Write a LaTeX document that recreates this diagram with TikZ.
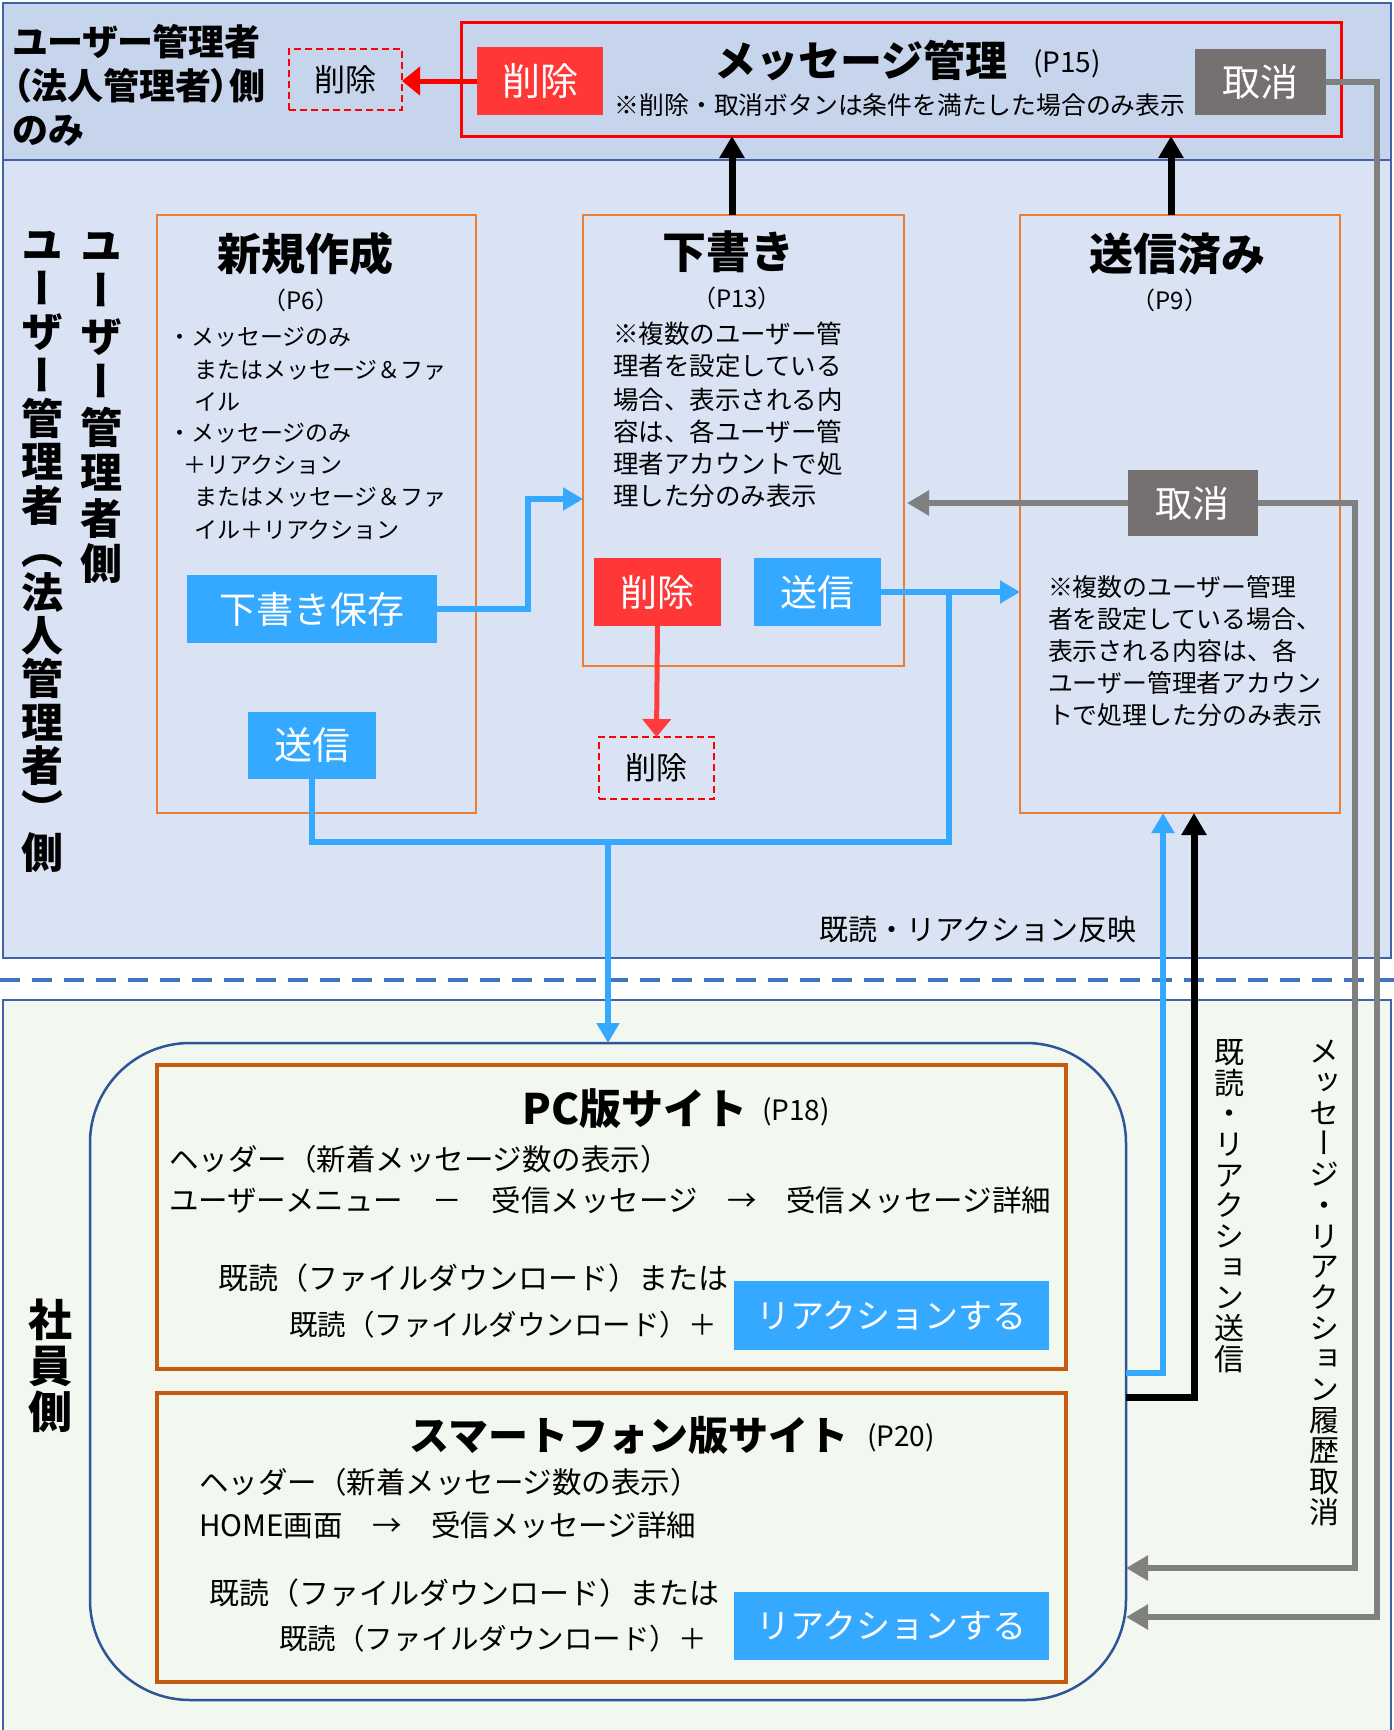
\documentclass[tikz,border=0pt]{standalone}
\usepackage{fontspec}
\setmainfont{Noto Sans CJK JP}
\newfontfamily\jpp[RawFeature=+palt]{Noto Sans CJK JP}
\newfontfamily\jpv[RawFeature=+vert]{Noto Sans CJK JP}
\usetikzlibrary{arrows.meta}
\definecolor{topfill}{HTML}{C6D4EC}
\definecolor{midfill}{HTML}{DAE3F3}
\definecolor{botfill}{HTML}{F2F7F0}
\definecolor{bandline}{HTML}{3F62A8}
\definecolor{dashblue}{HTML}{4472C4}
\definecolor{orangeline}{HTML}{ED7D31}
\definecolor{brownline}{HTML}{C55A11}
\definecolor{roundline}{HTML}{2F5597}
\definecolor{redfill}{HTML}{FF3737}
\definecolor{redline}{HTML}{FF0000}
\definecolor{redarrow}{HTML}{FF3B3B}
\definecolor{bluefill}{HTML}{35A9FF}
\definecolor{greyfill}{HTML}{767171}
\definecolor{greyline}{HTML}{808080}
\newcommand\fsz[1]{\fontsize{#1}{#1}\selectfont}
\begin{document}
\begin{tikzpicture}[x=1pt,y=-1pt,
  every node/.style={inner sep=0pt,outer sep=0pt},
  band/.style={draw=bandline,line width=2.5pt},
  obox/.style={draw=orangeline,line width=2.5pt},
  pbox/.style={draw=brownline,line width=3.5pt},
  bluebtn/.style={fill=bluefill,text=white},
  redbtn/.style={fill=redfill,text=white},
  greybtn/.style={fill=greyfill,text=white},
  dashbox/.style={draw=redline,line width=2.5pt,dash pattern=on 7pt off 4pt},
  blueconn/.style={draw=bluefill,line width=6pt},
  greyconn/.style={draw=greyline,line width=6pt},
  blackconn/.style={draw=black,line width=7pt},
  bluetip/.style={-{Triangle[length=20pt,width=22pt]}},
  greytip/.style={-{Triangle[length=22pt,width=24pt]}},
  blacktip/.style={-{Triangle[length=22pt,width=24pt]}},
  redtip/.style={-{Triangle[length=18pt,width=28pt]}},
  ln/.style={anchor=west}
]
\useasboundingbox (0,0) rectangle (1394,1730);
\begin{scope}
\clip (0,0) rectangle (1394,1730);
% bands
\draw[band,fill=topfill] (3,3) rectangle (1391,160);
\draw[band,fill=midfill] (3,160) rectangle (1391,958);
\draw[dashblue,line width=4pt,dash pattern=on 20pt off 12pt] (0,980) -- (1394,980);
\draw[band,fill=botfill] (3,1000) rectangle (1391,1745);
\end{scope}

% ---------- top band ----------
\node[font=\jpp\bfseries\fontsize{36}{44}\selectfont,align=left,anchor=west] (toplabel) at (13,85) {ユーザー管理者\\（法人管理者）側\\のみ};
\node[dashbox,minimum width=113pt,minimum height=61pt,font=\fsz{31}] (delA) at (345.5,79.5) {削除};
\node[draw=redline,line width=3pt,minimum width=880pt,minimum height=114pt] (msg) at (901,79) {};
\node[redbtn,minimum width=126pt,minimum height=68pt,font=\fsz{38}] (delBtnA) at (540,81) {削除};
\node[font=\bfseries\fsz{42}] (msgtitle) at (861,61) {メッセージ管理};
\node[font=\fsz{28}] (p15) at (1067,64) {(P15)};
\node[font=\fsz{24.8}] (msgnote) at (900,105) {※削除・取消ボタンは条件を満たした場合のみ表示};
\node[greybtn,minimum width=131pt,minimum height=66pt,font=\fsz{38}] (cancelA) at (1260.5,82) {取消};
\draw[draw=redline,line width=5pt,redtip] (delBtnA.west) -- (delBtnA.west -| delA.east);

% ---------- vertical labels ----------
\node[font=\jpv\bfseries\fontsize{42}{43.4}\selectfont,align=center] (vlab1) at (42,552) {ユ\\ー\\ザ\\ー\\管\\理\\者\\（\\法\\人\\管\\理\\者\\）\\側};
\node[font=\jpv\bfseries\fontsize{42}{45.5}\selectfont,align=center] (vlab2) at (101,408) {ユ\\ー\\ザ\\ー\\管\\理\\者\\側};

% ---------- new ----------
\node[obox,minimum width=319pt,minimum height=598pt] (newbox) at (316.5,514) {};
\node[font=\bfseries\fsz{44}] (newtitle) at (305,254) {新規作成};
\node[font=\fsz{24}] (newp) at (301,300) {（P6）};
\node[ln,font=\fsz{23}] (n1) at (168,337) {・メッセージのみ};
\node[ln,font=\fsz{23}] (n2) at (194,370) {またはメッセージ＆ファ};
\node[ln,font=\fsz{23}] (n3) at (194,402) {イル};
\node[ln,font=\fsz{23}] (n4) at (168,433) {・メッセージのみ};
\node[ln,font=\fsz{23}] (n5) at (183,465) {＋リアクション};
\node[ln,font=\fsz{23}] (n6) at (194,497) {またはメッセージ＆ファ};
\node[ln,font=\fsz{23}] (n7) at (194,530) {イル＋リアクション};
\node[bluebtn,minimum width=250pt,minimum height=68pt,font=\fsz{37}] (save) at (312,609) {下書き保存};
\node[bluebtn,minimum width=128pt,minimum height=67pt,font=\fsz{38}] (sendA) at (312,745.5) {送信};

% ---------- draft ----------
\node[obox,minimum width=321pt,minimum height=451pt] (draft) at (743.5,440.5) {};
\node[font=\bfseries\fsz{44}] (drafttitle) at (728,252) {下書き};
\node[font=\fsz{24}] (draftp) at (737,298) {（P13）};
\node[ln,font=\fsz{25.5}] (d1) at (613,334) {※複数のユーザー管};
\node[ln,font=\fsz{25.5}] (d2) at (613,366) {理者を設定している};
\node[ln,font=\fsz{25.5}] (d3) at (613,400) {場合、表示される内};
\node[ln,font=\fsz{25.5}] (d4) at (613,432) {容は、各ユーザー管};
\node[ln,font=\fsz{25.5}] (d5) at (613,464) {理者アカウントで処};
\node[ln,font=\fsz{25.5}] (d6) at (613,496) {理した分のみ表示};
\node[redbtn,minimum width=127pt,minimum height=68pt,font=\fsz{37}] (delBtnB) at (657.5,592) {削除};
\node[bluebtn,minimum width=127pt,minimum height=68pt,font=\fsz{37}] (sendB) at (817.5,592) {送信};
\node[dashbox,minimum width=115pt,minimum height=62pt,font=\fsz{31}] (delB) at (656.5,768) {削除};
\draw[draw=redarrow,line width=5pt,redtip] (delBtnB.south) -- (delB.north);

% ---------- sent ----------
\node[obox,minimum width=320pt,minimum height=598pt] (sent) at (1180,514) {};
\node[font=\bfseries\fsz{44}] (senttitle) at (1177,254) {送信済み};
\node[font=\fsz{24}] (sentp) at (1170,300) {（P9）};
\node[ln,font=\fsz{24.9}] (s1) at (1048,587) {※複数のユーザー管理};
\node[ln,font=\fsz{24.9}] (s2) at (1048,619) {者を設定している場合、};
\node[ln,font=\fsz{24.9}] (s3) at (1048,651) {表示される内容は、各};
\node[ln,font=\fsz{24.9}] (s4) at (1048,683) {ユーザー管理者アカウン};
\node[ln,font=\fsz{24.9}] (s5) at (1048,715) {トで処理した分のみ表示};

% grey connectors (under the cancel button)
\coordinate (g2) at (1355,1568);
\coordinate (g3) at (1377,1617);
\node[draw=none,minimum width=130pt,minimum height=66pt] (cancelBpos) at (1192.5,503) {};

% ---------- employee side ----------
\node[draw=roundline,line width=2.5pt,rounded corners=100pt,minimum width=1036pt,minimum height=657pt] (emp) at (608,1371.5) {};
\node[font=\jpv\bfseries\fontsize{44}{46}\selectfont,align=center] (emplab) at (50,1366) {社\\員\\側};

% PC
\node[pbox,minimum width=909pt,minimum height=304pt] (pc) at (611.5,1217) {};
\node[font=\bfseries\fsz{42}] (pctitle) at (635,1109) {PC版サイト};
\node[font=\fsz{28}] (pcp) at (796,1112) {(P18)};
\node[ln,font=\fsz{29.5}] (pc1) at (169,1159) {ヘッダー（新着メッセージ数の表示）};
\node[ln,font=\fsz{29.5}] (pc2) at (169,1200) {ユーザーメニュー　－　受信メッセージ　→　受信メッセージ詳細};
\node[ln,font=\fsz{30}] (pc3) at (218,1278) {既読（ファイルダウンロード）または};
\node[ln,font=\fsz{28.5}] (pc4) at (289,1325) {既読（ファイルダウンロード）＋};
\node[bluebtn,minimum width=315pt,minimum height=69pt,font=\fsz{34}] (reactPC) at (891.5,1315.5) {リアクションする};

% SP
\node[pbox,minimum width=909pt,minimum height=289pt] (sp) at (611.5,1537.5) {};
\node[font=\bfseries\fsz{40}] (sptitle) at (629,1435) {スマートフォン版サイト};
\node[font=\fsz{28}] (spp) at (901,1438) {(P20)};
\node[ln,font=\fsz{29.5}] (sp1) at (199,1482) {ヘッダー（新着メッセージ数の表示）};
\node[ln,font=\fsz{29.5}] (sp2) at (199,1525) {HOME画面　→　受信メッセージ詳細};
\node[ln,font=\fsz{30}] (sp3) at (209,1593) {既読（ファイルダウンロード）または};
\node[ln,font=\fsz{28.5}] (sp4) at (279,1639) {既読（ファイルダウンロード）＋};
\node[bluebtn,minimum width=315pt,minimum height=68pt,font=\fsz{34}] (reactSP) at (891.5,1626) {リアクションする};

% ---------- connectors ----------
% blue: save -> draft
\coordinate (a1) at (528,499);
\draw[blueconn,bluetip] (save.east) -- (save.east -| a1) -- (a1) -- (a1 -| draft.west);
% blue: sends
\coordinate (jR) at (949,842);
\coordinate (dn) at (608,842);
\draw[blueconn,line join=miter] (sendA.south) -- (sendA.south |- jR) -- (jR) -- (jR |- sendB.east);
\draw[blueconn,bluetip] (sendB.east) -- (sendB.east -| sent.west);
\draw[blueconn,bluetip] (dn) -- (dn |- emp.north);
% black up to message management
\coordinate (k1) at (732,215);
\coordinate (k2) at (1171,215);
\draw[blackconn,blacktip] (k1) -- (k1 |- msg.south);
\draw[blackconn,blacktip] (k2) -- (k2 |- msg.south);
% from employee box back up
\coordinate (b1) at (1163,1373);
\coordinate (b2) at (1194,1397);
\draw[blueconn,bluetip,line join=miter] (b1 -| emp.east) -- (b1) -- (b1 |- sent.south);
\draw[blackconn,blacktip,line join=miter] (b2 -| emp.east) -- (b2) -- (b2 |- sent.south);
% grey cancel lines
\draw[greyconn,greytip,line join=miter] (cancelBpos.east) -- (cancelBpos.east -| g2) -- (g2) -- (g2 -| emp.east);
\draw[greyconn,greytip,line join=miter] (cancelA.east) -- (cancelA.east -| g3) -- (g3) -- (g3 -| emp.east);
\draw[greyconn,greytip,shorten >=3pt] (cancelBpos.west) -- (cancelBpos.west -| draft.east);
\node[greybtn,minimum width=130pt,minimum height=66pt,font=\fsz{37}] (cancelB) at (1192.5,503) {取消};

% labels
\node[font=\fsz{29}] (reflect) at (978,929) {既読・リアクション反映};
\node[font=\jpv\fontsize{30}{30.7}\selectfont,align=center] (vsend) at (1229,1206) {既\\読\\・\\リ\\ア\\ク\\シ\\ョ\\ン\\送\\信};
\node[font=\jpv\fontsize{30}{30.7}\selectfont,align=center] (vcancel) at (1324,1283) {メ\\ッ\\セ\\ー\\ジ\\・\\リ\\ア\\ク\\シ\\ョ\\ン\\履\\歴\\取\\消};
\end{tikzpicture}
\end{document}
